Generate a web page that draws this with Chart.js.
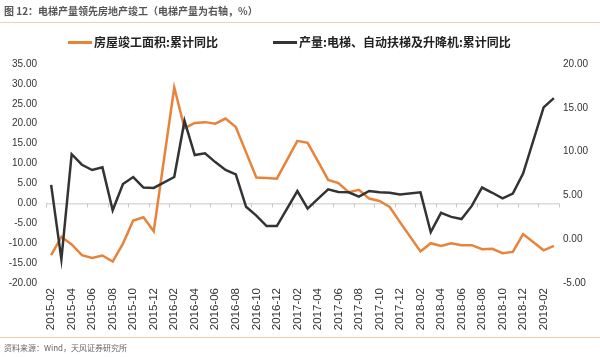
<!DOCTYPE html>
<html><head><meta charset="utf-8">
<script src="https://cdn.jsdelivr.net/npm/chart.js@4.4.0/dist/chart.umd.min.js"></script>
<style>
html,body{margin:0;padding:0;background:#fff;}
#wrap{position:relative;width:600px;height:357px;overflow:hidden;font-family:"Noto Sans CJK SC",sans-serif;}
#title{position:absolute;left:4px;top:4px;font-size:10px;font-weight:bold;color:#555;white-space:nowrap;line-height:14px;}
.sep{position:absolute;left:0;width:600px;height:1px;background:#F2CDB0;}
#src{position:absolute;left:4px;top:342px;font-size:8px;color:#666;white-space:nowrap;line-height:12px;}
.li{position:absolute;top:33px;font-size:12px;font-weight:bold;color:#222;white-space:nowrap;line-height:18px;}
.li i{position:absolute;top:8px;width:24px;height:3px;}
canvas{position:absolute;left:0;top:0;}
</style></head>
<body>
<div id="wrap">
<canvas id="c" width="600" height="357"></canvas>
<div id="title">图 12：电梯产量领先房地产竣工（电梯产量为右轴，%）</div>
<div class="sep" style="top:22px"></div>
<div class="li" id="lg0" style="left:68px;padding-left:26px"><i style="left:0;background:#E8833A"></i><span></span></div>
<div class="li" id="lg1" style="left:273px;padding-left:26px"><i style="left:0;background:#333333"></i><span></span></div>
<div class="sep" style="top:337px"></div>
<div id="src">资料来源：Wind，天风证券研究所</div>
</div>
<script>
const months = [
 "2015-02","2015-03","2015-04","2015-05","2015-06","2015-07","2015-08","2015-09","2015-10","2015-11","2015-12",
 "2016-01","2016-02","2016-03","2016-04","2016-05","2016-06","2016-07","2016-08","2016-09","2016-10","2016-11","2016-12",
 "2017-01","2017-02","2017-03","2017-04","2017-05","2017-06","2017-07","2017-08","2017-09","2017-10","2017-11","2017-12",
 "2018-01","2018-02","2018-03","2018-04","2018-05","2018-06","2018-07","2018-08","2018-09","2018-10","2018-11","2018-12",
 "2019-01","2019-02","2019-03"
];
const seriesNames = ["房屋竣工面积:累计同比","产量:电梯、自动扶梯及升降机:累计同比"];
const completionArea = [
 -13.0,-8.4,-10.3,-13.0,-13.7,-13.1,-14.6,-10.1,-4.3,-3.5,-7.0,
 null,29.1,18.9,20.2,20.4,20.0,21.3,19.2,12.8,6.5,6.4,6.2,
 null,15.7,15.2,10.6,5.9,5.1,2.8,3.4,1.2,0.6,-0.9,-4.7,
 null,-12.1,-10.0,-10.7,-10.0,-10.5,-10.5,-11.5,-11.4,-12.5,-12.2,-7.7,
 null,-11.8,-10.7
];
const elevatorOutput = [
 6.2,-2.3,9.7,8.5,7.9,8.2,3.3,6.3,7.1,5.9,5.85,
 null,7.1,13.5,9.6,9.8,8.8,7.9,7.4,3.7,2.7,1.5,1.5,
 null,5.5,3.5,4.6,5.7,5.4,5.35,4.85,5.5,5.35,5.3,5.1,
 null,5.35,0.8,3.0,2.55,2.3,3.8,5.9,5.3,4.65,5.2,7.5,
 null,15.05,16.1
];
const leftTicks = {min:-20,max:35,step:5};
const rightTicks = {min:-5,max:20,step:5};

document.querySelector('#lg0 span').textContent = seriesNames[0];
document.querySelector('#lg1 span').textContent = seriesNames[1];

const axisMarks = {
  id:'axisMarks',
  beforeDatasetsDraw(chart){
    const x = chart.scales.x, y = chart.scales.yL, ctx = chart.ctx;
    const y0 = y.getPixelForValue(0);
    const step = x.getPixelForValue(1) - x.getPixelForValue(0);
    ctx.save();
    ctx.strokeStyle = '#C8C8C8';
    ctx.lineWidth = 1;
    ctx.beginPath();
    ctx.moveTo(chart.chartArea.left, y0+0.5);
    ctx.lineTo(chart.chartArea.right, y0+0.5);
    for(let i=0;i<=months.length;i+=2){
      const px = Math.round(x.getPixelForValue(0) - step/2 + i*step)+0.5;
      ctx.moveTo(px, y0);
      ctx.lineTo(px, y0+4);
    }
    ctx.stroke();
    ctx.restore();
  }
};

new Chart(document.getElementById('c'), {
  type:'line',
  data:{
    labels: months,
    datasets:[
      {label:seriesNames[0], data:completionArea, yAxisID:'yL', borderColor:'#E8833A', borderWidth:2.5, pointRadius:0, tension:0, spanGaps:true, order:2},
      {label:seriesNames[1], data:elevatorOutput, yAxisID:'yR', borderColor:'#333333', borderWidth:2.5, pointRadius:0, tension:0, spanGaps:true, order:1}
    ]
  },
  options:{
    responsive:false, animation:false,
    layout:{padding:{top:64,bottom:20,left:0,right:0}},
    plugins:{legend:{display:false}, tooltip:{enabled:false}},
    scales:{
      x:{
        offset:true,
        grid:{display:false, drawTicks:false},
        border:{display:false},
        ticks:{autoSkip:false, minRotation:90, maxRotation:90, padding:5, color:'#333',
          font:{family:'Liberation Sans', size:11.5},
          callback:(v,i)=> i%2===0 ? months[i] : ''},
        afterFit:(s)=>{ s.height = 357-283-20; }
      },
      yL:{
        position:'left', min:leftTicks.min, max:leftTicks.max,
        grid:{display:false, drawTicks:false}, border:{display:false},
        ticks:{stepSize:leftTicks.step, padding:9, color:'#333', font:{family:'Liberation Sans', size:10},
          callback:(v)=>Number(v).toFixed(2)},
        afterFit:(s)=>{ s.width = 46; }
      },
      yR:{
        position:'right', min:rightTicks.min, max:rightTicks.max,
        grid:{display:false, drawTicks:false}, border:{display:false},
        ticks:{stepSize:rightTicks.step, padding:4, color:'#333', font:{family:'Liberation Sans', size:10},
          callback:(v)=>Number(v).toFixed(2)},
        afterFit:(s)=>{ s.width = 41; }
      }
    }
  },
  plugins:[axisMarks]
});
</script>
</body></html>
